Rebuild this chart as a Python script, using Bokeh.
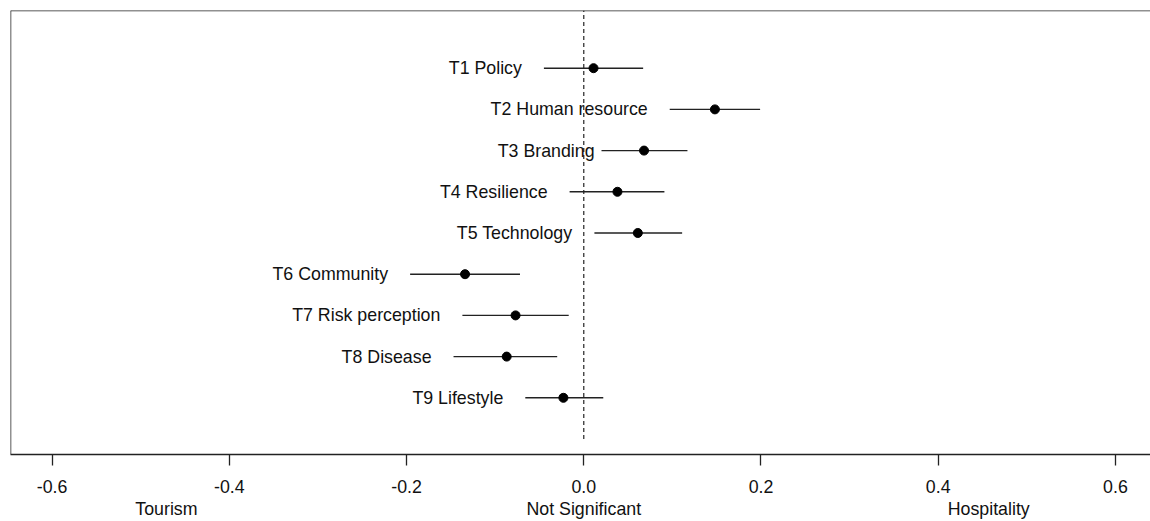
from bokeh.plotting import figure
from bokeh.models import ColumnDataSource, Range1d, FixedTicker, LinearAxis, PrintfTickFormatter, Span
from bokeh.core.properties import value
from bokeh.embed import file_html
from bokeh.resources import INLINE

# ---- data ----
topics = ["T1 Policy", "T2 Human resource", "T3  Branding", "T4 Resilience",
          "T5 Technology", "T6 Community", "T7 Risk perception", "T8 Disease",
          "T9 Lifestyle"]
estimate = [0.011, 0.148, 0.068, 0.038, 0.061, -0.134, -0.077, -0.087, -0.023]
lower = [-0.045, 0.097, 0.020, -0.016, 0.012, -0.196, -0.137, -0.147, -0.066]
upper = [0.067, 0.199, 0.117, 0.091, 0.111, -0.072, -0.017, -0.030, 0.022]
tick_values = [-0.6, -0.4, -0.2, 0.0, 0.2, 0.4, 0.6]
side_labels = ["Tourism", "Not Significant", "Hospitality"]
side_label_x = [-0.471, 0.0, 0.457]

ypos = [len(topics) - i for i in range(len(topics))]
label_offset = [-22, -22, -2, -22, -22, -22, -22, -22, -22]

src = ColumnDataSource(dict(topic=topics, est=estimate, lo=lower, hi=upper,
                            y=ypos, off=label_offset))

FONT = "Liberation Sans"
FS = "17.8px"
X0, X1 = -0.647, 0.6396
Y0, Y1 = -0.376, 10.40

p = figure(frame_width=1140, frame_height=444, output_backend="svg",
           toolbar_location=None, x_range=Range1d(X0, X1),
           y_range=Range1d(Y0, Y1), y_axis_location=None,
           min_border_left=10, min_border_top=10, min_border_right=0,
           min_border_bottom=0)
p.grid.visible = False
p.outline_line_color = None
p.background_fill_color = "white"
p.border_fill_color = "white"

# box: left and top edges (right edge lies outside the picture)
p.add_layout(Span(location=X0, dimension="height", line_color="#222222", line_width=1.5))
p.add_layout(Span(location=Y1, dimension="width", line_color="#222222", line_width=1.5))

# zero line
p.segment(x0=[0.0], y0=[0.0], x1=[0.0], y1=[10.4], line_color="#222222",
          line_width=1.2, line_dash="4 3")

p.segment(x0="lo", y0="y", x1="hi", y1="y", source=src, line_color="#222222",
          line_width=1.4)
p.scatter(x="est", y="y", source=src, size=9, color="black")
p.text(x="lo", y="y", text="topic", source=src, x_offset="off",
       text_align="right", text_baseline="middle", text_font=value(FONT),
       text_font_size=FS, text_color="#111111")

ax = p.xaxis[0]
ax.ticker = FixedTicker(ticks=tick_values, minor_ticks=[])
ax.formatter = PrintfTickFormatter(format="%.1f")
ax.axis_line_color = "#222222"
ax.axis_line_width = 1.3
ax.major_tick_line_color = "#222222"
ax.major_tick_line_width = 1.3
ax.major_tick_out = 11
ax.major_tick_in = 0
ax.minor_tick_out = 0
ax.minor_tick_in = 0
ax.major_label_standoff = 14
ax.major_label_text_font = FONT
ax.major_label_text_font_size = FS
ax.major_label_text_color = "#111111"

ax2 = LinearAxis(ticker=FixedTicker(ticks=side_label_x, minor_ticks=[]),
                 major_label_overrides={x: s for x, s in zip(side_label_x, side_labels)})
ax2.axis_line_color = None
ax2.major_tick_line_color = None
ax2.major_tick_out = 0
ax2.major_tick_in = 0
ax2.minor_tick_out = 0
ax2.minor_tick_in = 0
ax2.major_label_standoff = 3
ax2.major_label_text_font = FONT
ax2.major_label_text_font_size = FS
ax2.major_label_text_color = "#111111"
p.add_layout(ax2, "below")

open("out.html", "w").write(file_html(p, INLINE))
